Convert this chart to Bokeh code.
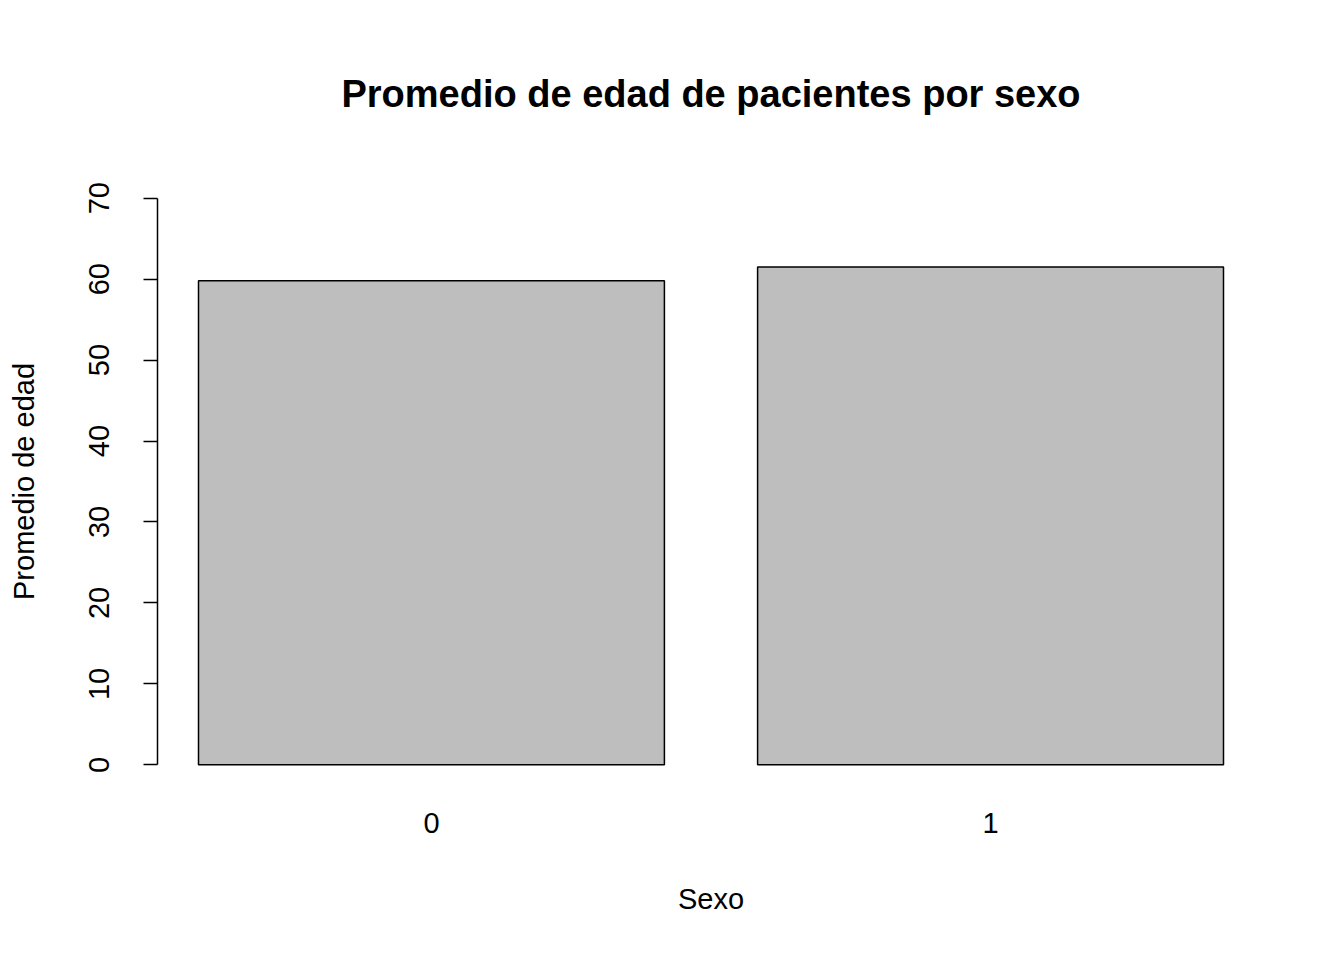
from bokeh.plotting import figure
from bokeh.models import FixedTicker, Range1d
from bokeh.embed import file_html
from bokeh.resources import INLINE

sexo = [0, 1]
sexo_labels = ["0", "1"]
promedio_edad = [59.8, 61.5]
y_ticks = [0, 10, 20, 30, 40, 50, 60, 70]
titulo = "Promedio de edad de pacientes por sexo"

FONT = "Liberation Sans"

p = figure(width=1328, height=944, output_backend="svg", toolbar_location=None,
           x_range=Range1d(-0.49, 1.49), y_range=Range1d(-2.8, 72.8),
           min_border_left=157, min_border_right=64, min_border_top=175,
           min_border_bottom=157, title=titulo)

p.vbar(x=sexo, top=promedio_edad, bottom=0, width=1/1.2,
       fill_color="#BEBEBE", line_color="black", line_width=1.5)

p.outline_line_color = None
p.xgrid.visible = False
p.ygrid.visible = False
p.background_fill_color = "white"
p.border_fill_color = "white"

p.title.text_font = FONT
p.title.text_font_size = "38px"
p.title.text_font_style = "bold"
p.title.text_color = "black"
p.title.align = "center"
p.title.vertical_align = "top"
p.title.standoff = 118

# y axis
ya = p.yaxis[0]
ya.ticker = FixedTicker(ticks=y_ticks)
ya.bounds = (0, 70)
ya.axis_line_width = 1.5
ya.major_tick_line_width = 1.5
ya.major_tick_out = 14
ya.major_tick_in = 0
ya.minor_tick_out = 0
ya.minor_tick_in = 0
ya.major_label_orientation = "vertical"
ya.major_label_standoff = 34
ya.major_label_text_font = FONT
ya.major_label_text_font_size = "29px"
ya.major_label_text_color = "black"
ya.axis_label = "Promedio de edad"
ya.axis_label_text_font = FONT
ya.axis_label_text_font_size = "29px"
ya.axis_label_text_font_style = "normal"
ya.axis_label_text_color = "black"
ya.axis_label_standoff = 47

# x axis
xa = p.xaxis[0]
xa.ticker = FixedTicker(ticks=sexo)
xa.major_label_overrides = {s: l for s, l in zip(sexo, sexo_labels)}
xa.axis_line_color = None
xa.major_tick_line_color = None
xa.minor_tick_line_color = None
xa.major_tick_out = 0
xa.major_tick_in = 0
xa.major_label_standoff = 25
xa.major_label_text_font = FONT
xa.major_label_text_font_size = "29px"
xa.major_label_text_color = "black"
xa.axis_label = "Sexo"
xa.axis_label_text_font = FONT
xa.axis_label_text_font_size = "29px"
xa.axis_label_text_font_style = "normal"
xa.axis_label_text_color = "black"
xa.axis_label_standoff = 47

open("out.html", "w").write(file_html(p, INLINE))
